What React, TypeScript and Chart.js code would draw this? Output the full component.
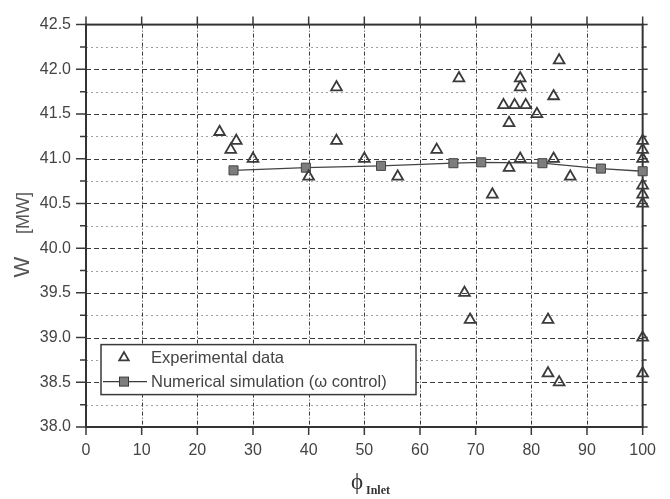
import React, { useEffect, useRef } from "react";
import { Chart, registerables } from "chart.js";

Chart.register(...registerables);

// Experimental measurements: inlet guide position (%) vs. power output (MW)
const expPhi = [24, 26, 27, 30, 40, 45, 45, 50, 56, 63, 67, 68, 69, 73, 75, 76, 76, 77, 78, 78, 78, 79, 81, 83, 83, 84, 84, 85, 85, 87, 100, 100, 100, 100, 100, 100, 100, 100];
const expPower = [41.3, 41.1, 41.2, 41.0, 40.8, 41.8, 41.2, 41.0, 40.8, 41.1, 41.9, 39.5, 39.2, 40.6, 41.6, 41.4, 40.9, 41.6, 41.9, 41.8, 41.0, 41.6, 41.5, 39.2, 38.6, 41.7, 41.0, 42.1, 38.5, 40.8, 41.2, 41.1, 41.0, 40.7, 40.6, 40.5, 39.0, 38.6];

// Numerical simulation with omega control
const simPhi = [26.5, 39.5, 53, 66, 71, 82, 92.5, 100];
const simPower = [40.87, 40.9, 40.92, 40.95, 40.96, 40.95, 40.89, 40.86];

const xMin = 0;
const xMax = 100;
const xStep = 10;
const yMin = 38.0;
const yMax = 42.5;
const yStep = 0.5;
const yMinorStep = 0.25;

const seriesLabels = ["Experimental data", "Numerical simulation (\u03c9 control)"];

const ink = "#3a3a3a";
const textColor = "#444";
const sansFont = '"Liberation Sans", Arial, sans-serif';
const serifFont = '"Liberation Serif", "DejaVu Serif", serif';

const paperGrid = {
  id: "paperGrid",
  beforeDatasetsDraw(chart: any) {
    const { ctx, chartArea: a, scales } = chart;
    const xs = scales.x;
    const ys = scales.y;
    ctx.save();
    ctx.lineWidth = 1;

    // minor dotted horizontals
    ctx.strokeStyle = "#a0a0a0";
    ctx.setLineDash([2, 3]);
    for (let v = yMin + yMinorStep; v < yMax - 1e-6; v += yStep) {
      const py = Math.round(ys.getPixelForValue(v)) + 0.5;
      ctx.beginPath();
      ctx.moveTo(a.left, py);
      ctx.lineTo(a.right, py);
      ctx.stroke();
    }

    // major dashed horizontals
    ctx.strokeStyle = ink;
    ctx.setLineDash([5, 3]);
    for (let v = yMin + yStep; v < yMax - 1e-6; v += yStep) {
      const py = Math.round(ys.getPixelForValue(v)) + 0.5;
      ctx.beginPath();
      ctx.moveTo(a.left, py);
      ctx.lineTo(a.right, py);
      ctx.stroke();
    }

    // dash-dot verticals
    ctx.setLineDash([4, 2, 1, 2]);
    for (let v = xMin + xStep; v < xMax - 1e-6; v += xStep) {
      const px = Math.round(xs.getPixelForValue(v)) + 0.5;
      ctx.beginPath();
      ctx.moveTo(px, a.top);
      ctx.lineTo(px, a.bottom);
      ctx.stroke();
    }
    ctx.setLineDash([]);

    // tick marks
    ctx.lineWidth = 1.5;
    for (let v = yMin; v <= yMax + 1e-6; v += yMinorStep) {
      const py = ys.getPixelForValue(v);
      const major = Math.abs((v - yMin) / yStep - Math.round((v - yMin) / yStep)) < 1e-6;
      ctx.beginPath();
      ctx.moveTo(a.left - (major ? 10 : 6), py);
      ctx.lineTo(a.left, py);
      ctx.moveTo(a.right, py);
      ctx.lineTo(a.right + (major ? 5 : 4), py);
      ctx.stroke();
    }
    for (let v = xMin; v <= xMax + 1e-6; v += xStep) {
      const px = xs.getPixelForValue(v);
      ctx.beginPath();
      ctx.moveTo(px, a.bottom);
      ctx.lineTo(px, a.bottom + 8);
      ctx.moveTo(px, a.top);
      ctx.lineTo(px, a.top - 8);
      ctx.stroke();
    }

    // frame
    ctx.lineWidth = 2;
    ctx.strokeStyle = "#333";
    ctx.strokeRect(a.left, a.top, a.right - a.left, a.bottom - a.top);
    ctx.restore();
  },
  afterDraw(chart: any) {
    const { ctx, chartArea: a } = chart;
    ctx.save();

    // legend box
    const bx = a.left + 15;
    const by = a.top + 320;
    const bw = 315;
    const bh = 50;
    ctx.fillStyle = "#ffffff";
    ctx.fillRect(bx, by, bw, bh);
    ctx.lineWidth = 1.5;
    ctx.strokeStyle = ink;
    ctx.strokeRect(bx, by, bw, bh);

    const row1 = by + 13;
    const row2 = by + 37;
    const symX = bx + 23;

    // triangle symbol
    const r = 5.5;
    ctx.lineWidth = 1.8;
    ctx.beginPath();
    ctx.moveTo(symX, row1 - r);
    ctx.lineTo(symX + r * Math.sin((2 * Math.PI) / 3), row1 + r / 2);
    ctx.lineTo(symX - r * Math.sin((2 * Math.PI) / 3), row1 + r / 2);
    ctx.closePath();
    ctx.stroke();

    // line + square symbol
    ctx.lineWidth = 1.3;
    ctx.beginPath();
    ctx.moveTo(bx + 2, row2);
    ctx.lineTo(bx + 46, row2);
    ctx.stroke();
    ctx.fillStyle = "#7d7d7d";
    ctx.fillRect(symX - 4.5, row2 - 4.5, 9, 9);
    ctx.lineWidth = 1;
    ctx.strokeRect(symX - 4.5, row2 - 4.5, 9, 9);

    ctx.fillStyle = textColor;
    ctx.font = `16.5px ${sansFont}`;
    ctx.textBaseline = "middle";
    ctx.textAlign = "left";
    ctx.fillText(seriesLabels[0], bx + 50, row1 + 1);
    ctx.fillText(seriesLabels[1], bx + 50, row2 + 1);

    // y axis title
    ctx.save();
    ctx.translate(23, 0);
    ctx.rotate(-Math.PI / 2);
    ctx.textAlign = "center";
    ctx.textBaseline = "middle";
    ctx.fillStyle = "#555";
    ctx.font = `22px ${sansFont}`;
    ctx.fillText("W", -267, 0);
    ctx.font = `18px ${sansFont}`;
    ctx.fillText("[MW]", -213, 1);
    ctx.restore();

    // x axis title
    ctx.fillStyle = "#333";
    ctx.textAlign = "left";
    ctx.textBaseline = "alphabetic";
    ctx.font = `23px ${serifFont}`;
    ctx.fillText("\u03d5", 351, 489);
    ctx.font = `bold 12px ${serifFont}`;
    ctx.fillText("Inlet", 366, 494);

    ctx.restore();
  },
};

export default function App() {
  const canvasRef = useRef<HTMLCanvasElement | null>(null);

  useEffect(() => {
    document.body.style.margin = "0";
    const canvas = canvasRef.current;
    if (!canvas) return;

    const chart = new Chart(canvas, {
      type: "scatter",
      data: {
        datasets: [
          {
            label: seriesLabels[0],
            data: expPhi.map((x, i) => ({ x, y: expPower[i] })),
            pointStyle: "triangle",
            pointRadius: 6.2,
            pointBorderWidth: 1.8,
            borderColor: ink,
            backgroundColor: "rgba(255,255,255,0)",
            showLine: false,
            clip: false,
          },
          {
            label: seriesLabels[1],
            data: simPhi.map((x, i) => ({ x, y: simPower[i] })),
            pointStyle: "rect",
            pointRadius: 6.4,
            pointBorderWidth: 1,
            pointBackgroundColor: "#7d7d7d",
            pointBorderColor: "#444",
            borderColor: "#444",
            borderWidth: 1.3,
            showLine: true,
            clip: false,
          },
        ],
      } as any,
      options: {
        responsive: false,
        animation: false,
        layout: { padding: { top: 16, right: 13, left: 0, bottom: 0 } },
        plugins: {
          legend: { display: false },
          tooltip: { enabled: false },
        },
        scales: {
          x: {
            type: "linear",
            min: xMin,
            max: xMax,
            grid: { display: false, drawTicks: false },
            border: { display: false },
            ticks: {
              stepSize: xStep,
              padding: 14,
              color: textColor,
              font: { family: sansFont, size: 16 },
              maxRotation: 0,
            },
            afterFit(scale: any) {
              scale.height = 72;
            },
          },
          y: {
            type: "linear",
            min: yMin,
            max: yMax,
            grid: { display: false, drawTicks: false },
            border: { display: false },
            ticks: {
              stepSize: yStep,
              padding: 15,
              color: textColor,
              font: { family: sansFont, size: 16 },
              callback: (v: any) => Number(v).toFixed(1),
            },
            afterFit(scale: any) {
              scale.width = 86;
            },
          },
        },
      } as any,
      plugins: [paperGrid],
    });

    return () => chart.destroy();
  }, []);

  return (
    <div style={{ width: 670, height: 499, background: "#fff" }}>
      <canvas ref={canvasRef} width={670} height={499} style={{ display: "block" }} />
    </div>
  );
}
